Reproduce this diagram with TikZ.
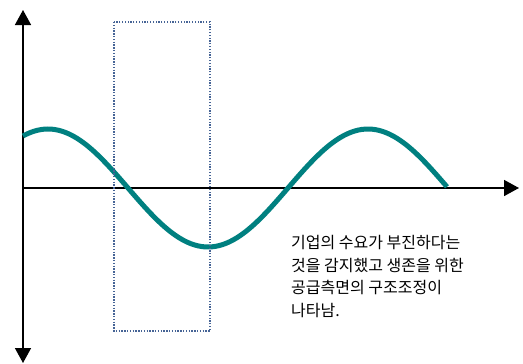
\documentclass[tikz,border=0pt]{standalone}
\usepackage{fontspec}
\newfontfamily\kr{Noto Sans CJK KR}
\usetikzlibrary{arrows.meta}
\definecolor{wave}{RGB}{0,128,128}
\definecolor{boxblue}{RGB}{70,100,150}
\tikzset{
  axis/.style={line width=1.6pt,-{Triangle[width=16pt,length=15pt]}},
  wavestyle/.style={line width=5pt,wave},
  focus/.style={boxblue,line width=1.3pt,dash pattern=on 1.3pt off 1.5pt},
  note/.style={anchor=north west,inner sep=0pt,align=left,font=\kr\fontsize{16}{22.6}\selectfont}
}
\begin{document}
\begin{tikzpicture}[x=1pt,y=-1pt]
\useasboundingbox (0,0) rectangle (523,364);
\coordinate (ybot) at (23,363);
\coordinate (ytop) at (23,10);
\coordinate (xo) at (23,188);
\coordinate (xend) at (519,188);
\draw[axis,{Triangle[width=16pt,length=15pt]}-{Triangle[width=16pt,length=15pt]}] (ybot) -- (ytop);
\draw[axis] (xo) -- (xend);
\draw[wavestyle] plot[domain=23:447,samples=120,smooth] (\x,{188-59*cos(1.125*(\x-48))});
\draw[focus] (114,22) rectangle (210,331);
\node[note] (txt) at (291,235) {기업의 수요가 부진하다는\\것을 감지했고 생존을 위한\\공급측면의 구조조정이\\나타남.};
\end{tikzpicture}
\end{document}
